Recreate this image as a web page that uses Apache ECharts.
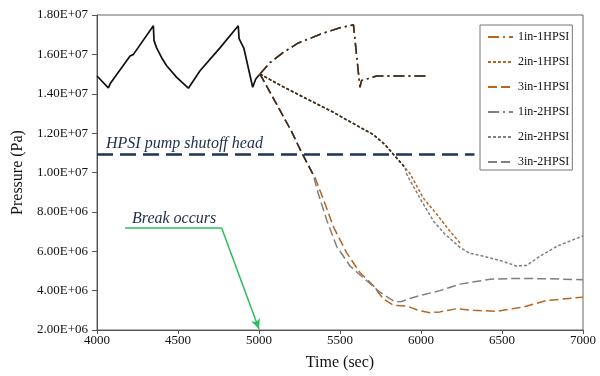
<!DOCTYPE html>
<html>
<head>
<meta charset="utf-8">
<script src="https://cdn.jsdelivr.net/npm/echarts@6/dist/echarts.min.js"></script>
<style>
  html, body { margin: 0; padding: 0; background: #fff; }
  #chart { width: 600px; height: 376px; }
</style>
</head>
<body>
<div id="chart"></div>
<script>
// time (sec), pressure (Pa)
const history = [
  [4000, 14.9e6], [4070, 14.3e6], [4084, 14.55e6], [4204, 15.92e6], [4225, 16.0e6],
  [4348, 17.45e6], [4352, 16.7e6], [4368, 16.33e6], [4399, 15.83e6], [4430, 15.42e6],
  [4492, 14.83e6], [4564, 14.28e6], [4636, 15.17e6], [4759, 16.33e6], [4872, 17.45e6],
  [4877, 16.8e6], [4907, 16.3e6], [4961, 14.33e6], [4980, 14.75e6], [5006, 15.0e6]
];
// 1 in break: both HPSI cases give the same curve
const oneIn = [
  [5006, 15.0e6], [5068, 15.58e6], [5150, 16.1e6], [5243, 16.58e6], [5397, 17.08e6],
  [5500, 17.35e6], [5583, 17.5e6], [5623, 14.33e6], [5633, 14.67e6], [5726, 14.9e6],
  [6035, 14.9e6]
];
const twoInShared = [
  [5006, 15.0e6], [5150, 14.35e6], [5300, 13.72e6], [5450, 13.1e6], [5562, 12.58e6],
  [5706, 11.92e6], [5780, 11.4e6], [5830, 10.92e6], [5901, 10.25e6]
];
const twoIn1Hpsi = [
  [5932, 9.95e6], [6014, 8.7e6], [6100, 7.85e6], [6175, 7.05e6], [6241, 6.42e6]
];
const twoIn2Hpsi = [
  [5912, 9.9e6], [6000, 8.6e6], [6080, 7.5e6], [6150, 6.85e6], [6241, 6.2e6],
  [6300, 5.9e6], [6385, 5.75e6], [6500, 5.5e6], [6590, 5.25e6], [6652, 5.28e6],
  [6735, 5.75e6], [6838, 6.25e6], [7000, 6.78e6]
];
const threeInShared = [
  [5006, 15.0e6], [5100, 13.6e6], [5200, 12.1e6], [5264, 11.0e6], [5335, 9.88e6]
];
const threeIn1Hpsi = [
  [5346, 9.75e6], [5407, 8.42e6], [5459, 7.25e6], [5541, 5.92e6], [5623, 4.92e6],
  [5706, 4.25e6], [5767, 3.58e6], [5830, 3.25e6], [5912, 3.22e6], [5984, 3.0e6],
  [6056, 2.88e6], [6117, 2.92e6], [6220, 3.08e6], [6323, 3.0e6], [6467, 2.95e6],
  [6632, 3.17e6], [6776, 3.5e6], [7000, 3.67e6]
];
const threeIn2Hpsi = [
  [5366, 8.92e6], [5418, 7.58e6], [5479, 6.25e6], [5562, 5.25e6], [5665, 4.5e6],
  [5747, 3.92e6], [5840, 3.42e6], [5880, 3.45e6], [5932, 3.6e6], [5994, 3.75e6],
  [6117, 4.0e6], [6241, 4.33e6], [6426, 4.58e6], [6590, 4.62e6], [6800, 4.6e6],
  [7000, 4.55e6]
];
const shutoffHead = 10.92e6;
const shutoffSpan = [4000, 6330];
const breakArrow = [[4173, 7.17e6], [4770, 7.17e6], [5000, 2.05e6]];

const FONT = 'Liberation Serif';
const BROWN = '#b8651e';
const GREY = '#7f7f7f';
const DARK = '#3a2a1c';

const DASHDOT = [11, 4, 2, 4];
const DOTTED = [3, 2];
const DASHED = [9, 4];

function sci(v) {
  const e = Math.floor(Math.log10(v) + 1e-9);
  const m = v / Math.pow(10, e);
  return m.toFixed(2) + 'E+' + String(e).padStart(2, '0');
}

function curve(name, data, color, dash, extra) {
  return Object.assign({
    name: name,
    type: 'line',
    data: data,
    symbol: 'none',
    showSymbol: false,
    color: color,
    lineStyle: { color: color, width: 1.5, type: dash },
    silent: true,
    animation: false
  }, extra || {});
}

const chart = echarts.init(document.getElementById('chart'));
chart.setOption({
  backgroundColor: '#fff',
  animation: false,
  grid: {
    left: 97, right: 17, top: 15, bottom: 41,
    show: true, borderColor: '#666', borderWidth: 1
  },
  legend: {
    data: ['1in-1HPSI', '2in-1HPSI', '3in-1HPSI', '1in-2HPSI', '2in-2HPSI', '3in-2HPSI'],
    orient: 'vertical',
    left: 480, top: 25,
    padding: [6, 3, 2, 7],
    itemWidth: 25, itemHeight: 14, itemGap: 13,
    backgroundColor: '#fff',
    borderColor: '#777', borderWidth: 1,
    itemStyle: { color: 'rgba(0,0,0,0)', borderWidth: 0 },
    textStyle: { fontFamily: FONT, fontSize: 12, color: '#111' }
  },
  xAxis: {
    type: 'value', min: 4000, max: 7000, interval: 500,
    name: 'Time (sec)', nameLocation: 'middle', nameGap: 25,
    nameTextStyle: { fontFamily: FONT, fontSize: 16, color: '#111' },
    axisLine: { lineStyle: { color: '#555' } },
    axisTick: { length: 4, lineStyle: { color: '#555' } },
    axisLabel: { fontFamily: FONT, fontSize: 13, color: '#111', margin: 4,
                 formatter: v => String(v) },
    splitLine: { show: false }
  },
  yAxis: {
    type: 'value', min: 2e6, max: 1.8e7, interval: 2e6,
    name: 'Pressure (Pa)', nameLocation: 'middle', nameGap: 64,
    nameTextStyle: { fontFamily: FONT, fontSize: 16, color: '#111' },
    axisLine: { show: true, lineStyle: { color: '#555' } },
    axisTick: { show: true, length: 5, lineStyle: { color: '#555' } },
    axisLabel: { fontFamily: FONT, fontSize: 13, color: '#111', margin: 9, formatter: sci },
    splitLine: { show: false }
  },
  graphic: [
    { type: 'text', left: 106, top: 136, silent: true,
      style: { text: 'HPSI pump shutoff head', fill: '#1f2d4d',
               font: 'italic 16px "Liberation Serif"' } },
    { type: 'text', left: 132, top: 211, silent: true,
      style: { text: 'Break occurs', fill: '#1f2d4d',
               font: 'italic 16px "Liberation Serif"' } }
  ],
  series: [
    curve('history', history, '#111', 'solid', {
      lineStyle: { color: '#111', width: 1.7 },
      markLine: {
        silent: true, animation: false,
        symbol: 'none',
        label: { show: false },
        emphasis: { disabled: true },
        data: [
          [
            { coord: [shutoffSpan[0], shutoffHead], symbol: 'none',
              lineStyle: { color: '#1f3356', width: 2.5, type: [16, 7] } },
            { coord: [shutoffSpan[1], shutoffHead], symbol: 'none' }
          ],
          [
            { coord: breakArrow[0], symbol: 'none', lineStyle: { color: '#2dbe5a', width: 1.5, type: 'solid' } },
            { coord: breakArrow[1], symbol: 'none' }
          ],
          [
            { coord: breakArrow[1], symbol: 'none', lineStyle: { color: '#2dbe5a', width: 1.5, type: 'solid' } },
            { coord: breakArrow[2], symbol: 'arrow', symbolSize: [7, 10] }
          ]
        ]
      }
    }),
    curve('1in-1HPSI', oneIn, BROWN, DASHDOT),
    curve('2in-1HPSI', twoInShared.concat(twoIn1Hpsi), BROWN, DOTTED),
    curve('3in-1HPSI', threeInShared.concat(threeIn1Hpsi), BROWN, DASHED),
    curve('1in-2HPSI', oneIn, GREY, DASHDOT),
    curve('2in-2HPSI', twoInShared.concat(twoIn2Hpsi), GREY, DOTTED),
    curve('3in-2HPSI', threeInShared.concat(threeIn2Hpsi), GREY, DASHED),
    // where the two HPSI cases coincide the overlapping strokes read as near-black
    curve('shared-1in', oneIn, DARK, DASHDOT),
    curve('shared-2in', twoInShared, DARK, DOTTED),
    curve('shared-3in', threeInShared, DARK, DASHED)
  ]
});
</script>
</body>
</html>
